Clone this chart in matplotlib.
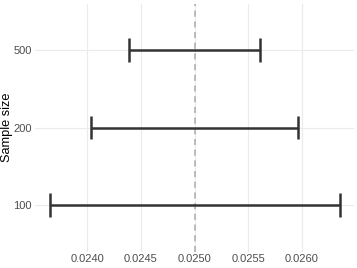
import matplotlib.pyplot as plt

plt.rcParams['font.family'] = ['Liberation Sans', 'DejaVu Sans']

sizes = ['100', '200', '500']
lower = [0.02365, 0.02404, 0.02439]
upper = [0.02635, 0.02596, 0.02561]
true_value = 0.025

fig = plt.figure(figsize=(3.57, 2.68), dpi=100)
ax = fig.add_axes([35 / 357, 1 - 251.5 / 268, (354 - 35) / 357, 248 / 268])

ypos = list(range(len(sizes)))
ax.axvline(true_value, color='#aaaaaa', lw=1.1, ls=(0, (4, 3)), zorder=1)
for y, lo, hi in zip(ypos, lower, upper):
    ax.hlines(y, lo, hi, color='#333333', lw=1.8, zorder=3)
    ax.vlines([lo, hi], y - 0.15, y + 0.15, color='#333333', lw=1.8, zorder=3)

ax.set_yticks(ypos)
ax.set_yticklabels(sizes)
ax.set_xticks([0.0240, 0.0245, 0.0250, 0.0255, 0.0260])
ax.set_xticklabels(['0.0240', '0.0245', '0.0250', '0.0255', '0.0260'])
ax.set_ylim(-0.6, 2.6)
span = max(upper) - min(lower)
ax.set_xlim(min(lower) - 0.05 * span, max(upper) + 0.05 * span)

ax.grid(True, color='#ebebeb', lw=0.8)
ax.set_axisbelow(True)
for s in ax.spines.values():
    s.set_visible(False)
ax.tick_params(axis='y', length=0, labelsize=8, labelcolor='#4d4d4d', pad=2.5)
ax.tick_params(axis='x', length=0, labelsize=8, labelcolor='#4d4d4d', pad=1.5)
ax.set_ylabel('Sample size', fontsize=9.2)
ax.yaxis.set_label_coords(-22 / 319, 0.5)

fig.savefig('out.png', dpi=100)
